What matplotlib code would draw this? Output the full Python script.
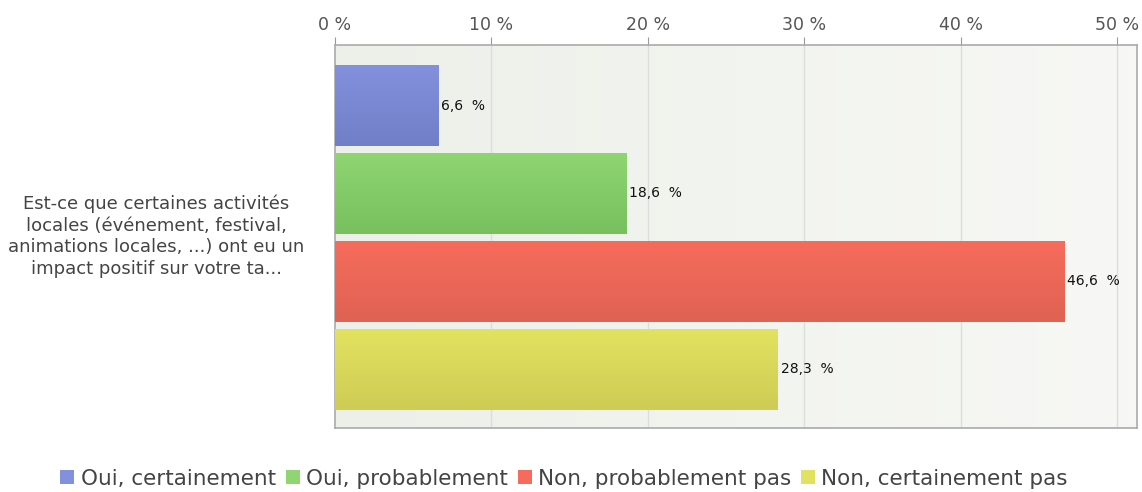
import matplotlib.pyplot as plt
from matplotlib.patches import Patch
from matplotlib.colors import LinearSegmentedColormap
import numpy as np

# chart data
question = "Est-ce que certaines activités\nlocales (événement, festival,\nanimations locales, ...) ont eu un\nimpact positif sur votre ta..."
answers = ["Oui, certainement", "Oui, probablement", "Non, probablement pas", "Non, certainement pas"]
percents = [6.6, 18.6, 46.6, 28.3]
ticks = [0, 10, 20, 30, 40, 50]

# top and bottom shade of each bar
top_colors = ["#8390dc", "#8fd673", "#f66c5c", "#e2e260"]
bottom_colors = ["#717fc8", "#78c05d", "#df6253", "#cfcc54"]

plt.rcParams['font.family'] = ['DejaVu Sans']

fig = plt.figure(figsize=(11.42, 4.92), dpi=100)
ax = fig.add_axes([0.2933, 0.1301, 0.7023, 0.7784])

xmax = 51.25
ylims = (3.665, -0.6875)
pos = np.arange(len(percents))

# soft background gradient
bg = np.linspace(0, 1, 256).reshape(1, -1)
bg_cmap = LinearSegmentedColormap.from_list("bg", ["#edf0e9", "#f7f8f5"])
ax.imshow(bg, cmap=bg_cmap, aspect='auto', extent=[0, xmax, ylims[0], ylims[1]], zorder=0)

for t in ticks[1:]:
    ax.axvline(t, color="#dcdfd8", lw=1, zorder=1)

bars = ax.barh(pos, percents, height=0.92, color=top_colors, zorder=2)
grad = np.linspace(0, 1, 64).reshape(-1, 1)
for bar, c1, c2, v in zip(bars, top_colors, bottom_colors, percents):
    cm = LinearSegmentedColormap.from_list("b", [c1, c2])
    y0 = bar.get_y()
    im = ax.imshow(grad, cmap=cm, aspect='auto',
                   extent=[0, v, y0 + bar.get_height(), y0], zorder=3)
    im.set_clip_path(bar)
    ax.text(v + 0.2, y0 + bar.get_height() / 2,
            ("%.1f  %%" % v).replace(".", ","), ha='left', va='center',
            fontsize=10, color="#111111", zorder=4)

ax.set_xlim(0, xmax)
ax.set_ylim(*ylims)

ax.xaxis.tick_top()
ax.set_xticks(ticks)
ax.set_xticklabels(["%d %%" % t for t in ticks], fontsize=12.5, color="#555555")
ax.tick_params(axis='x', length=6, color="#999999", pad=2)
ax.set_yticks([])
for s in ax.spines.values():
    s.set_color("#aaaaaa")
    s.set_linewidth(1.2)

fig.text(0.137, 0.52, question, ha='center', va='center', fontsize=13,
         color="#444444", linespacing=1.25)

handles = [Patch(facecolor=c, edgecolor='none') for c in top_colors]
fig.legend(handles, answers, loc='lower center', bbox_to_anchor=(0.494, -0.033),
           ncol=4, frameon=False, fontsize=15.5, handlelength=0.65, handleheight=0.65,
           handletextpad=0.3, columnspacing=0.45, labelcolor="#444444")

fig.savefig("out.png", dpi=100)
